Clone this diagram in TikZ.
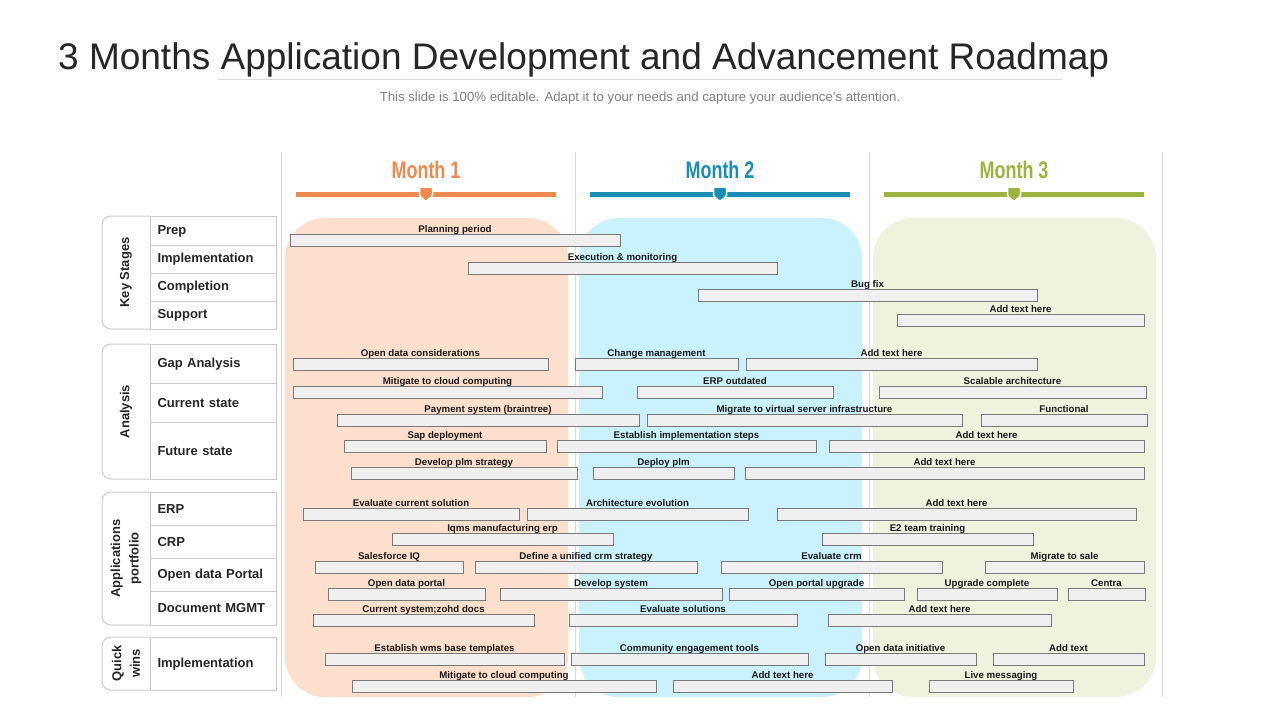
\documentclass[tikz,border=0pt]{standalone}
\usepackage{fontspec}
\setmainfont{Liberation Sans}
\newfontfamily\narrowfont{Liberation Sans}[FakeStretch=0.75]
\usepackage{tikz}
\usetikzlibrary{positioning}
\usepackage{xcolor}
\definecolor{titlegrey}{HTML}{262626}
\definecolor{subgrey}{HTML}{808080}
\definecolor{sepgrey}{HTML}{D9D9D9}
\definecolor{rowline}{HTML}{CCCCCC}
\definecolor{barfill}{HTML}{F0F0F0}
\definecolor{barline}{HTML}{7A7A7A}
\definecolor{peachfill}{HTML}{FCDFCC}
\definecolor{skyfill}{HTML}{C9F2FC}
\definecolor{olivefill}{HTML}{EFF2DD}
\definecolor{monthone}{HTML}{EE8A4E}
\definecolor{monthtwo}{HTML}{1A8DB5}
\definecolor{monththree}{HTML}{9BB43D}
\tikzset{
  barbox/.style={draw=barline, fill=barfill, line width=0.9pt, minimum height=12pt, inner sep=0pt, outer sep=0pt},
  barlabel/.style={font=\bfseries\fontsize{9.7}{10}\selectfont, text=black!90, inner sep=0pt},
  rowbox/.style={draw=rowline, line width=1pt, text width=112pt, inner xsep=7pt, inner ysep=0pt, align=left,
    font=\bfseries\fontsize{13}{14}\selectfont, text=titlegrey},
  groupline/.style={draw=rowline, line width=1pt},
  grouptext/.style={rotate=90, align=center, font=\bfseries\fontsize{13}{18.5}\selectfont, text=titlegrey},
  monthtext/.style={font=\narrowfont\bfseries\fontsize{24}{26}\selectfont},
}
% one bar of the roadmap with its caption
\newcommand{\roadbar}[5]{%
  \node[barbox, minimum width={(#3-#2)*1pt}, anchor=north west] (#1) at (#2,#4) {};
  \node[barlabel, anchor=base] (#1-t) at ([yshift=2pt]#1.north) {#5};}
% one row of the left table
\newcommand{\stagerow}[4]{%
  \node[rowbox, minimum height={(#3-#2)*1pt}, anchor=north west] (#1) at (150,#2) {#4};}
% rotated group label on the left
\newcommand{\stagegroup}[4]{%
  \draw[groupline, rounded corners=9pt] (150,#2) -- (102,#2) -- (102,#3) -- (150,#3);
  \node[grouptext] (#1) at (126,{(#2+#3)/2}) {#4};}
% month heading with its rule and marker
\newcommand{\monthhead}[4]{%
  \node[monthtext, text=#3, anchor=base] (#1) at (#2,178) {#4};
  \draw[#3, line width=5pt] (#2-130,194) -- (#2+130,194);
  \filldraw[fill=#3, draw=white, line width=1.5pt, rounded corners=1pt]
    (#2-6.5,187) -- (#2+6.5,187) -- (#2+6.5,196) -- (#2,201.5) -- (#2-6.5,196) -- cycle;}

\begin{document}
\begin{tikzpicture}[x=1pt, y=-1pt]
  \useasboundingbox (0,0) rectangle (1280,720);
  \fill[white] (0,0) rectangle (1280,720);

  % title
  \node[font=\fontsize{37}{40}\selectfont, text=titlegrey, anchor=base west, inner sep=0pt] (title) at (58,69)
    {3 Months Application Development and Advancement Roadmap};
  \draw[sepgrey, line width=0.8pt] (218,79) -- (1062,79);
  \node[font=\fontsize{13.2}{15}\selectfont, text=subgrey, anchor=base, inner sep=0pt] (subtitle) at (640,101)
    {This slide is 100\% editable. Adapt it to your needs and capture your audience's attention.};

  % month panels
  \fill[peachfill, rounded corners=40pt] (285,218) rectangle (568,697);
  \fill[skyfill, rounded corners=40pt] (579,218) rectangle (862,697);
  \fill[olivefill, rounded corners=40pt] (873,218) rectangle (1156,697);
  \draw[sepgrey, line width=0.8pt] (281,152) -- (281,697);
  \draw[sepgrey, line width=0.8pt] (575,152) -- (575,697);
  \draw[sepgrey, line width=0.8pt] (869,152) -- (869,697);
  \draw[sepgrey, line width=0.8pt] (1162,152) -- (1162,697);

  \monthhead{m1}{426}{monthone}{Month 1}
  \monthhead{m2}{720}{monthtwo}{Month 2}
  \monthhead{m3}{1014}{monththree}{Month 3}

  % left table
  \stagerow{prep}{216}{245}{Prep}
  \stagerow{impl}{245}{273}{Implementation}
  \stagerow{compl}{273}{301}{Completion}
  \stagerow{supp}{301}{329}{Support}
  \stagegroup{keystages}{216}{329}{Key Stages}
  \stagerow{gap}{344}{383}{Gap Analysis}
  \stagerow{current}{383}{422}{Current state}
  \stagerow{future}{422}{479}{Future state}
  \stagegroup{analysis}{344}{479}{Analysis}
  \stagerow{erp}{492}{525}{ERP}
  \stagerow{crp}{525}{558}{CRP}
  \stagerow{portal}{558}{591}{Open data Portal}
  \stagerow{docs}{591}{625}{Document MGMT}
  \stagegroup{apps}{492}{625}{Applications\\portfolio}
  \stagerow{quick}{637}{690}{Implementation}
  \stagegroup{wins}{637}{690}{Quick\\wins}

  % key stages
  \roadbar{plan}{290}{620}{234}{Planning period}
  \roadbar{exec}{468}{777}{262}{Execution \& monitoring}
  \roadbar{bug}{698}{1037}{289}{Bug fix}
  \roadbar{kfour}{897}{1144}{314}{Add text here}

  % analysis
  \roadbar{aa1}{293}{548}{358}{Open data considerations}
  \roadbar{aa2}{575}{738}{358}{Change management}
  \roadbar{aa3}{746}{1037}{358}{Add text here}
  \roadbar{ab1}{293}{602}{386}{Mitigate to cloud computing}
  \roadbar{ab2}{637}{833}{386}{ERP outdated}
  \roadbar{ab3}{879}{1146}{386}{Scalable architecture}
  \roadbar{ac1}{337}{639}{414}{Payment system (braintree)}
  \roadbar{ac2}{647}{962}{414}{Migrate to virtual server infrastructure}
  \roadbar{ac3}{981}{1147}{414}{Functional}
  \roadbar{ad1}{344}{546}{440}{Sap deployment}
  \roadbar{ad2}{557}{816}{440}{Establish implementation steps}
  \roadbar{ad3}{829}{1144}{440}{Add text here}
  \roadbar{ae1}{351}{577}{467}{Develop plm strategy}
  \roadbar{ae2}{593}{734}{467}{Deploy plm}
  \roadbar{ae3}{745}{1144}{467}{Add text here}

  % applications portfolio
  \roadbar{pa1}{303}{519}{508}{Evaluate current solution}
  \roadbar{pa2}{527}{748}{508}{Architecture evolution}
  \roadbar{pa3}{777}{1136}{508}{Add text here}
  \roadbar{pb1}{392}{613}{533}{Iqms manufacturing erp}
  \roadbar{pb2}{822}{1033}{533}{E2 team training}
  \roadbar{pc1}{315}{463}{561}{Salesforce IQ}
  \roadbar{pc2}{475}{697}{561}{Define a unified crm strategy}
  \roadbar{pc3}{721}{942}{561}{Evaluate crm}
  \roadbar{pc4}{985}{1144}{561}{Migrate to sale}
  \roadbar{pd1}{328}{485}{588}{Open data portal}
  \roadbar{pd2}{500}{722}{588}{Develop system}
  \roadbar{pd3}{729}{904}{588}{Open portal upgrade}
  \roadbar{pd4}{917}{1057}{588}{Upgrade complete}
  \roadbar{pd5}{1068}{1145}{588}{Centra}
  \roadbar{pe1}{313}{534}{614}{Current system;zohd docs}
  \roadbar{pe2}{569}{797}{614}{Evaluate solutions}
  \roadbar{pe3}{828}{1051}{614}{Add text here}

  % quick wins
  \roadbar{qa1}{325}{564}{653}{Establish wms base templates}
  \roadbar{qa2}{571}{808}{653}{Community engagement tools}
  \roadbar{qa3}{825}{976}{653}{Open data initiative}
  \roadbar{qa4}{993}{1144}{653}{Add text}
  \roadbar{qb1}{352}{656}{680}{Mitigate to cloud computing}
  \roadbar{qb2}{673}{892}{680}{Add text here}
  \roadbar{qb3}{929}{1073}{680}{Live messaging}
\end{tikzpicture}
\end{document}
